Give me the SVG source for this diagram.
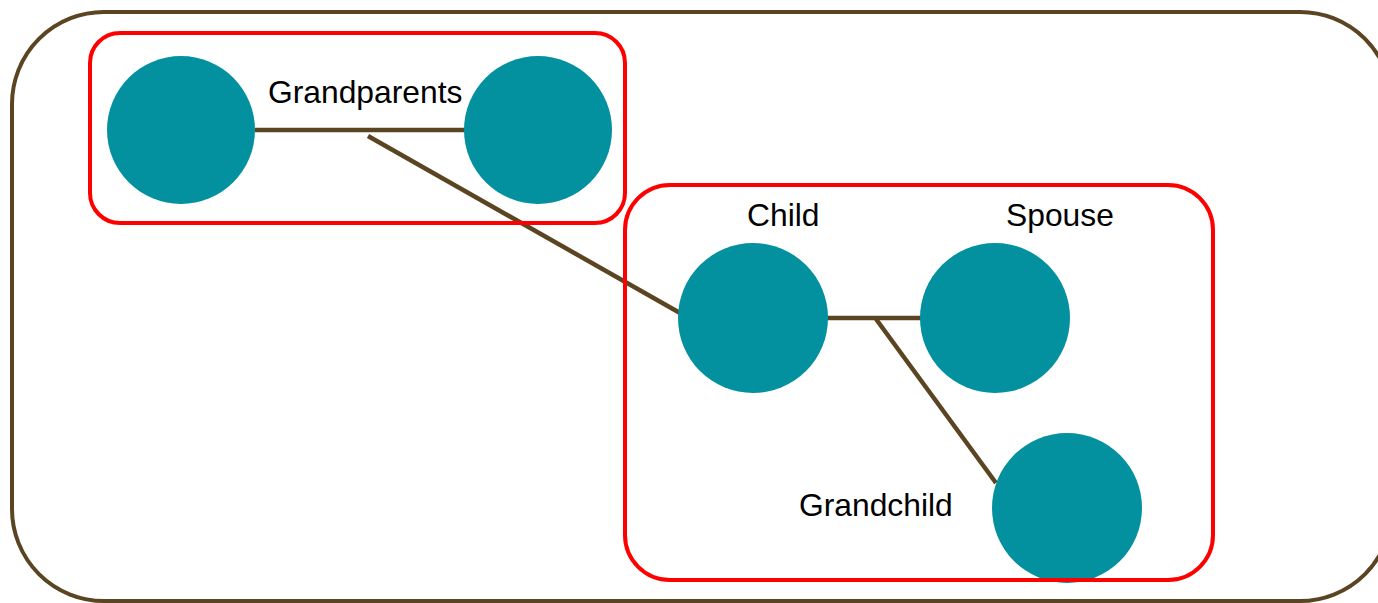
<svg xmlns="http://www.w3.org/2000/svg" width="1378" height="603" viewBox="0 0 1378 603">
<style>
.frame{fill:none;stroke:#5B4422;stroke-width:4}
.group{fill:none;stroke:#FF0000;stroke-width:4}
.person{fill:#0391A0}
.link{stroke:#5B4422;stroke-width:4.5;fill:none}
.label{font-family:"Liberation Sans",Arial,sans-serif;font-size:31.8px;fill:#000}
</style>
<rect id="family" class="frame" x="12" y="12" width="1380" height="589" rx="92" ry="92"/>
<g id="connectors">
<line class="link" x1="255" y1="130" x2="466" y2="130"/>
<line class="link" x1="368" y1="136" x2="680" y2="313"/>
<line class="link" x1="827" y1="318" x2="930" y2="318"/>
<line class="link" x1="876" y1="319" x2="996" y2="483"/>
</g>
<g id="grandparent1"><circle class="person" cx="181" cy="130" r="74"/></g>
<g id="grandparent2"><circle class="person" cx="538" cy="130" r="74"/></g>
<g id="child"><circle class="person" cx="753" cy="318" r="75"/></g>
<g id="spouse"><circle class="person" cx="995" cy="318" r="75"/></g>
<g id="grandchild"><circle class="person" cx="1067" cy="508" r="75"/></g>
<g id="grandparents-group"><rect class="group" x="90" y="33" width="535" height="190" rx="30" ry="30"/><text class="label" x="268" y="103">Grandparents</text></g>
<g id="child-group"><rect class="group" x="625" y="185" width="588" height="395" rx="45" ry="45"/>
<text class="label" x="747" y="226">Child</text>
<text class="label" x="1006" y="226">Spouse</text>
<text class="label" x="799" y="516">Grandchild</text></g>
</svg>
